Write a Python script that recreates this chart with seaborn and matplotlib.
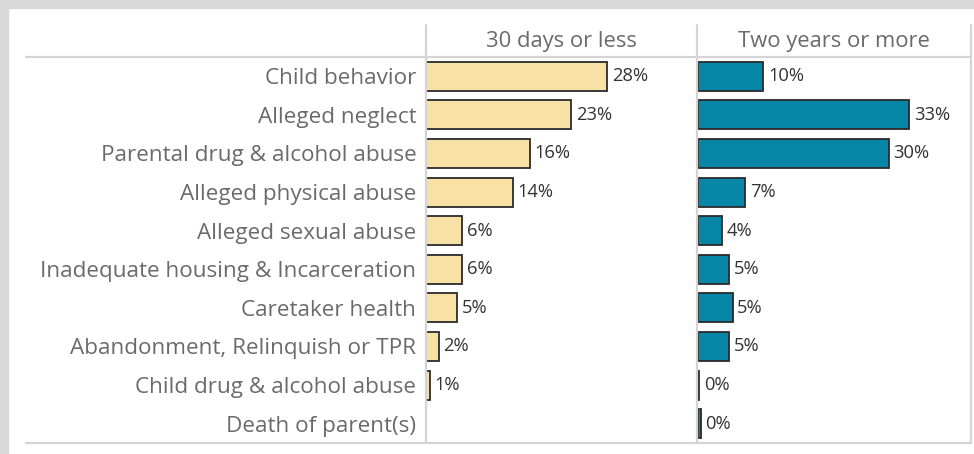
import matplotlib
matplotlib.use("Agg")
import matplotlib.pyplot as plt
import seaborn as sns
import numpy as np
import pandas as pd
from matplotlib.lines import Line2D
from matplotlib.patches import Rectangle

categories = ["Child behavior", "Alleged neglect", "Parental drug & alcohol abuse",
              "Alleged physical abuse", "Alleged sexual abuse",
              "Inadequate housing & Incarceration", "Caretaker health",
              "Abandonment, Relinquish or TPR", "Child drug & alcohol abuse",
              "Death of parent(s)"]
short_stay = [28.3, 22.7, 16.2, 13.6, 5.6, 5.6, 4.8, 2.0, 0.6, np.nan]
long_stay = [10.2, 33.0, 29.8, 7.4, 3.8, 4.8, 5.4, 4.9, 0.15, 0.4]
panel_titles = ["30 days or less", "Two years or more"]
colors = ["#F8E1A4", "#0787A8"]

sns.set_theme(style="white")
plt.rcParams['font.family'] = ['Open Sans', 'DejaVu Sans']

W, H = 974, 454
fig = plt.figure(figsize=(W / 100, H / 100), dpi=100)
fig.patch.set_facecolor("white")

def fx(px):
    return px / W

def fy(py):
    return 1 - py / H

# gray frame strips
fig.add_artist(Rectangle((0, 0), fx(8), 1, transform=fig.transFigure, color="#D9D9D9", zorder=0))
fig.add_artist(Rectangle((0, fy(8)), 1, 1 - fy(8), transform=fig.transFigure, color="#D9D9D9", zorder=0))

top_px, bot_px = 57, 443
panels = [(426, 697), (698, 971)]
title_centers = [561, 834]
scale = 6.4
data = [short_stay, long_stay]

for i, ((x0, x1), vals) in enumerate(zip(panels, data)):
    ax = fig.add_axes([fx(x0), fy(bot_px), fx(x1 - x0), fy(top_px) - fy(bot_px)])
    df = pd.DataFrame({"cat": categories, "val": vals})
    sns.barplot(data=df, x="val", y="cat", ax=ax, color=colors[i], saturation=1,
                width=0.75, edgecolor="#2b2b2b", linewidth=1.3, orient="h")
    ax.set_xlim(0, (x1 - x0) / scale)
    ax.set_ylim(len(categories) - 0.5, -0.5)
    ax.set_xlabel("")
    ax.set_ylabel("")
    ax.set_xticks([])
    for s in ax.spines.values():
        s.set_visible(False)
    ax.set_facecolor("none")
    if i == 0:
        ax.tick_params(axis="y", length=0, pad=7, labelsize=16.2, labelcolor="#6a6a6a")
    else:
        ax.set_yticks([])
    for j, v in enumerate(vals):
        if not np.isnan(v):
            ax.text(v + 0.75, j, f"{round(v):.0f}%", va="center", ha="left",
                    fontsize=13.2, color="#333333")
    fig.text(fx(title_centers[i]), fy(42), panel_titles[i], ha="center", va="center",
             fontsize=15.8, color="#6a6a6a")

line_c = "#D4D4D4"
for ypx in (top_px, bot_px):
    fig.add_artist(Line2D([fx(26), fx(971)], [fy(ypx), fy(ypx)], transform=fig.transFigure,
                          color=line_c, lw=1.6))
for xpx in (426, 697, 971):
    fig.add_artist(Line2D([fx(xpx), fx(xpx)], [fy(25), fy(bot_px)], transform=fig.transFigure,
                          color=line_c, lw=1.6))

fig.savefig("out.png", dpi=100, facecolor="white")
